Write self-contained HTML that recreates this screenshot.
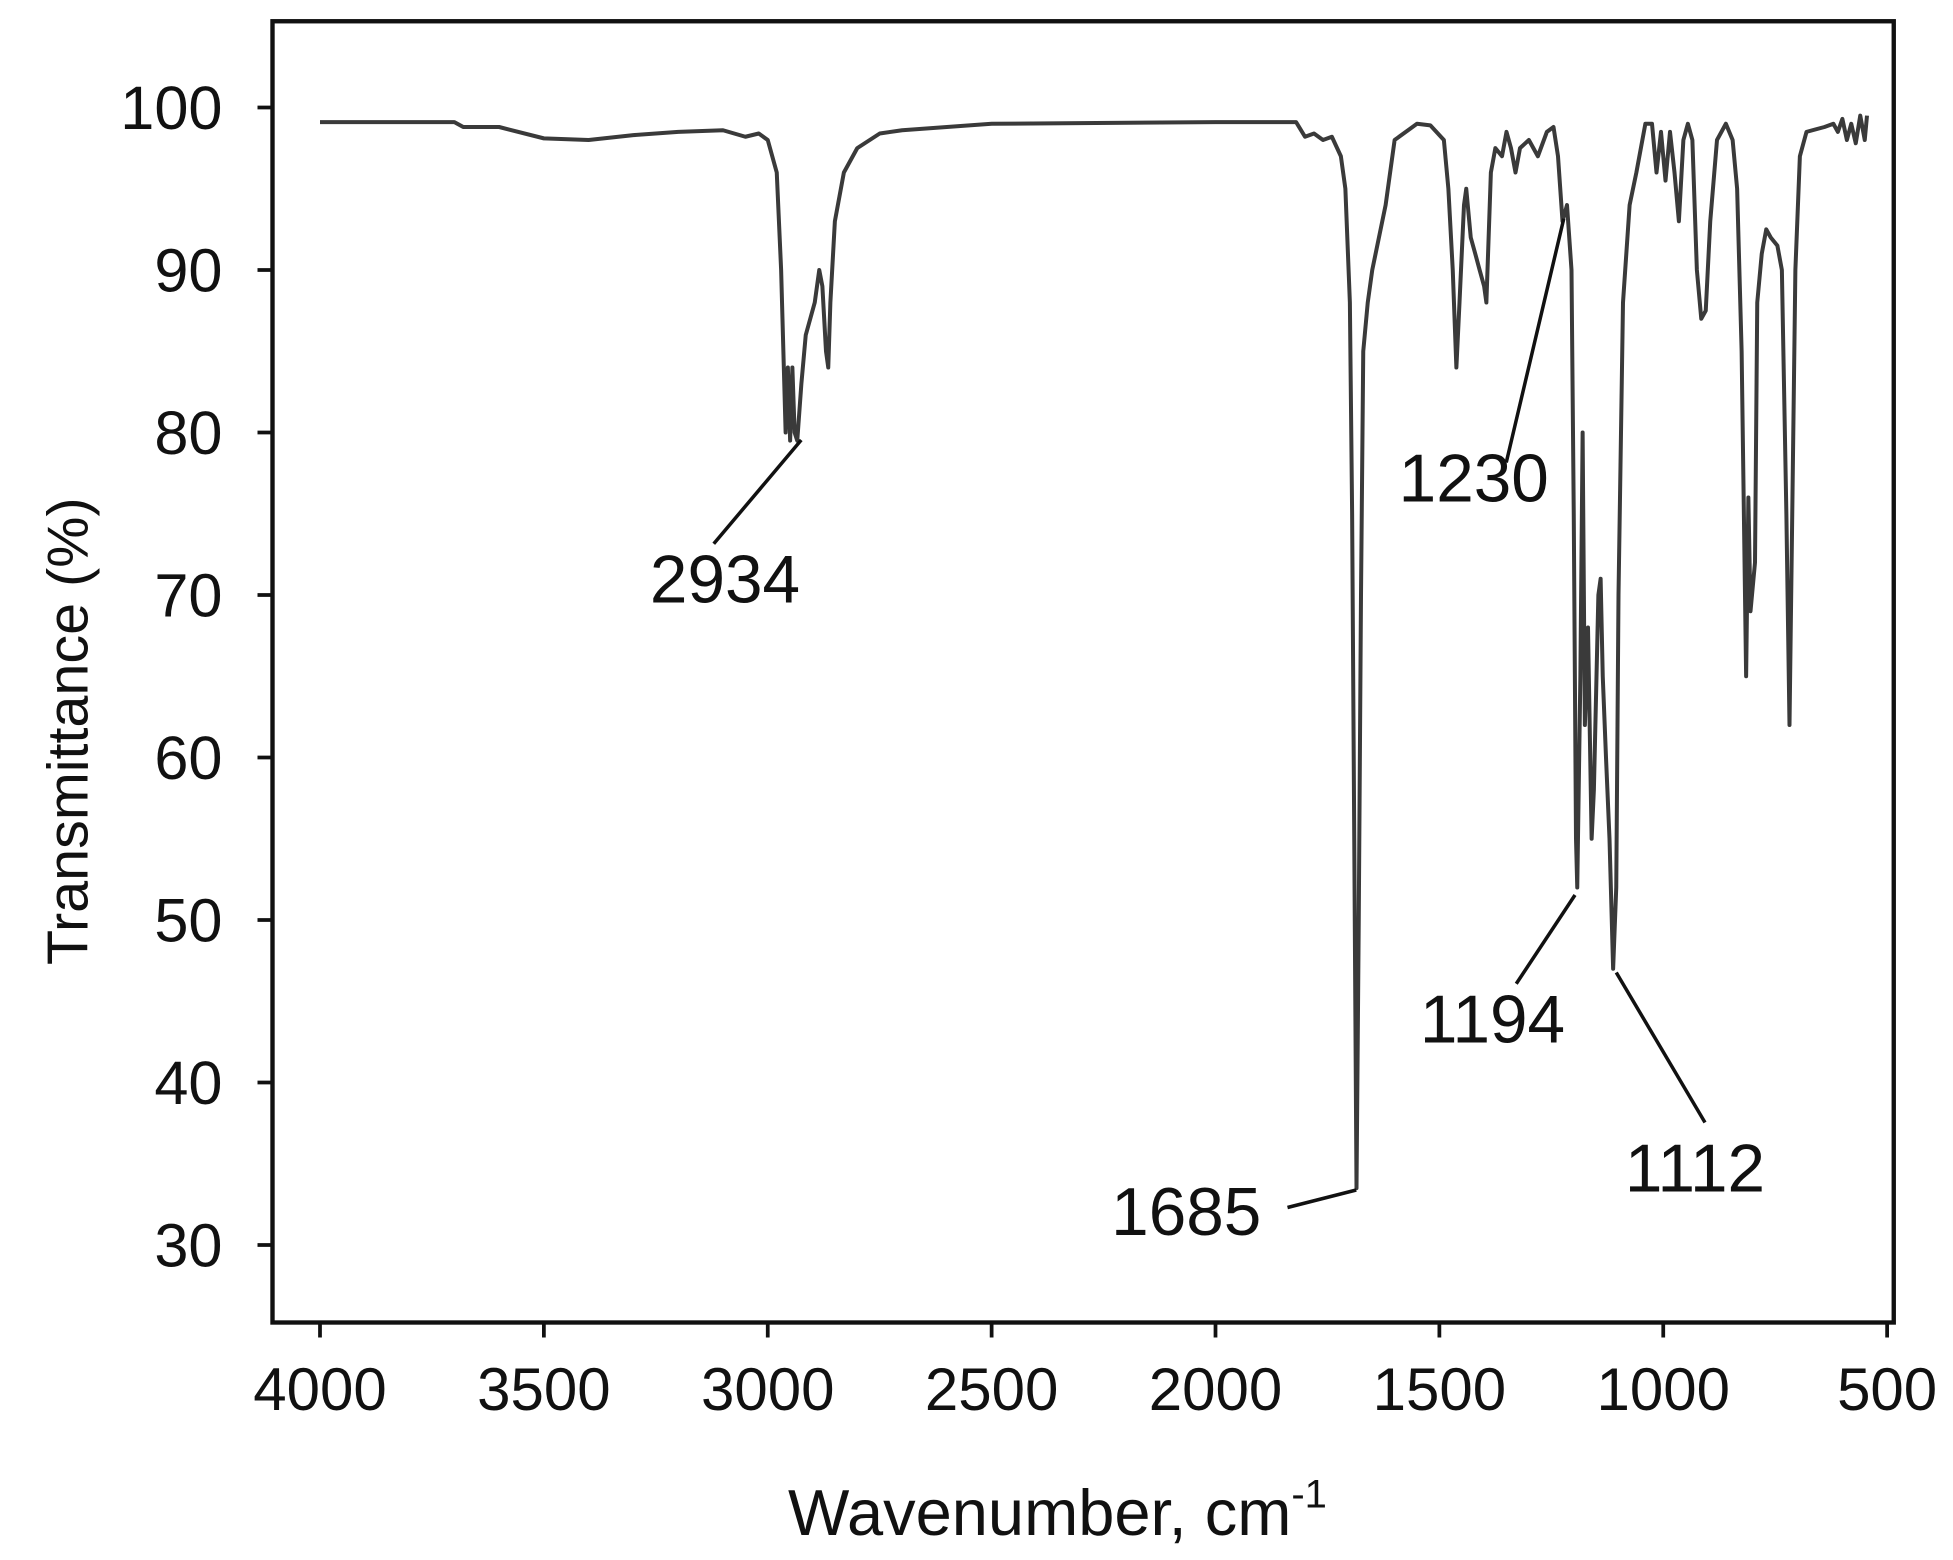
<!DOCTYPE html>
<html><head><meta charset="utf-8"><style>
html,body{margin:0;padding:0;background:#fff;}
svg{display:block;}
text{font-family:"Liberation Sans",Arial,sans-serif;fill:#111;}
</style></head><body>
<svg id="chart" width="1953" height="1560" viewBox="0 0 1562.4 1248" xmlns="http://www.w3.org/2000/svg">
<rect x="218" y="17" width="1297" height="1041" fill="none" stroke="#111" stroke-width="3.5"/>
<g id="xticks"></g>
<g id="yticks"></g>
<path id="spectrum" fill="none" stroke="#3a3a3a" stroke-width="3.2" stroke-linejoin="round"/>
<g id="annots"></g>
<text x="846" y="1228" font-size="52" text-anchor="middle">Wavenumber, cm<tspan font-size="32" dy="-22">-1</tspan></text>
<text transform="translate(70,585) rotate(-90)" font-size="46" text-anchor="middle">Transmittance (%)</text>
</svg>
<script>
const xTicks=[4000,3500,3000,2500,2000,1500,1000,500];
const yTicks=[30,40,50,60,70,80,90,100];
const wavenumbers=[4000,3700,3680,3600,3500,3400,3300,3200,3100,3050,3020,3000,2980,2970,2960,2955,2950,2945,2940,2934,2925,2915,2905,2895,2885,2878,2870,2865,2860,2850,2830,2800,2750,2700,2500,2000,1820,1800,1780,1760,1740,1720,1710,1700,1695,1690,1685,1680,1675,1670,1660,1650,1620,1600,1550,1520,1490,1480,1470,1462,1455,1445,1440,1430,1420,1410,1400,1395,1385,1375,1360,1350,1340,1330,1320,1300,1280,1260,1245,1235,1225,1215,1205,1200,1195,1192,1185,1180,1175,1168,1160,1155,1145,1140,1135,1128,1120,1112,1105,1100,1090,1075,1060,1040,1025,1015,1005,995,985,975,965,955,945,935,925,915,905,895,880,860,845,835,825,815,810,805,795,790,780,770,760,745,735,725,718,712,705,695,680,640,620,610,600,590,580,570,560,550,545];
const transmittance=[99.1,99.1,98.8,98.8,98.1,98.0,98.3,98.5,98.6,98.2,98.4,98,96,90,80,84,79.5,84,80,79.5,83,86,87,88,90,89,85,84,88,93,96,97.5,98.4,98.6,99,99.1,99.1,98.2,98.4,98,98.2,97,95,88,75,55,33.5,50,70,85,88,90,94,98,99,98.9,98,95,90,84,88,94,95,92,91,90,89,88,96,97.5,97,98.5,97.5,96,97.5,98,97,98.5,98.8,97,93,94,90,75,55,52,65,80,62,68,55,58,70,71,65,60,55,47,52,70,88,94,96,99,99,96,98.5,95.5,98.5,96,93,98,99,98,90,87,87.5,93,98,99,98,95,85,65,76,69,72,88,91,92.5,92,91.5,90,75,62,75,90,97,98.5,98.8,99,98.5,99.3,98,99,97.8,99.5,98,99.5];
const peakLabels=["2934","1685","1230","1194","1112"];
const x=w=>256+(4000-w)/500*179.1;
const y=t=>86+(100-t)/10*130;
const NS="http://www.w3.org/2000/svg";
const xg=document.getElementById('xticks'),yg=document.getElementById('yticks');
xTicks.forEach(v=>{
 const l=document.createElementNS(NS,'line');
 
 
 l.setAttribute('x1',x(v));l.setAttribute('x2',x(v));l.setAttribute('y1',1058);l.setAttribute('y2',1070);
 l.setAttribute('stroke','#111');l.setAttribute('stroke-width','3');xg.appendChild(l);
 const t=document.createElementNS(NS,'text');
 
 
 t.setAttribute('x',x(v));t.setAttribute('y',1128);t.setAttribute('font-size','48');t.setAttribute('text-anchor','middle');
 t.textContent=v;xg.appendChild(t);
});
yTicks.forEach(v=>{
 const l=document.createElementNS(NS,'line');
 
 
 l.setAttribute('x1',206);l.setAttribute('x2',218);l.setAttribute('y1',y(v));l.setAttribute('y2',y(v));
 l.setAttribute('stroke','#111');l.setAttribute('stroke-width','3');yg.appendChild(l);
 const t=document.createElementNS(NS,'text');
 
 
 t.setAttribute('x',178);t.setAttribute('y',y(v)+17);t.setAttribute('font-size','49');t.setAttribute('text-anchor','end');
 t.textContent=v;yg.appendChild(t);
});
document.getElementById('spectrum').setAttribute('d',wavenumbers.map((w,i)=>(i?'L':'M')+x(w).toFixed(1)+','+y(transmittance[i]).toFixed(1)).join(''));
const ann=[[641,352,571,435,580,482],[1085,952,1030,966,949,988],[1251,175,1205,370,1179,401],[1260,716,1213,787,1194,834],[1293,778,1364,898,1356,953]];
const ag=document.getElementById('annots');
ann.forEach((a,i)=>{
 const l=document.createElementNS(NS,'line');
 
 
 l.setAttribute('x1',a[0]);l.setAttribute('y1',a[1]);l.setAttribute('x2',a[2]);l.setAttribute('y2',a[3]);
 l.setAttribute('stroke','#111');l.setAttribute('stroke-width','2.8');ag.appendChild(l);
 const t=document.createElementNS(NS,'text');
 
 
 t.setAttribute('x',a[4]);t.setAttribute('y',a[5]);t.setAttribute('font-size','54');t.setAttribute('text-anchor','middle');
 t.textContent=peakLabels[i];ag.appendChild(t);
});
</script>
</body></html>
